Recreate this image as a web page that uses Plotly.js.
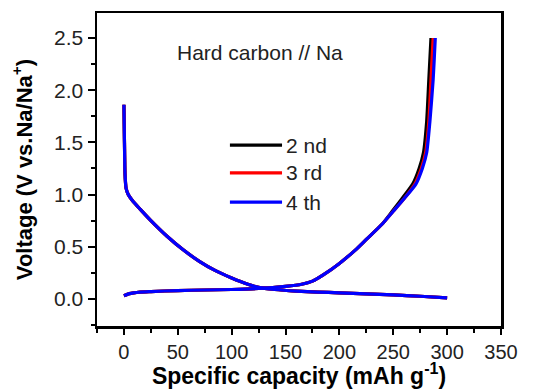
<!DOCTYPE html>
<html>
<head>
<meta charset="utf-8">
<script src="https://cdn.plot.ly/plotly-3.0.1.min.js"></script>
<style>html,body{margin:0;padding:0;background:#fff;}#chart{width:544px;height:389px;}</style>
</head>
<body>
<div id="chart"></div>
<script>
// Discharge (sodiation) branch, cycles 2-4 (nearly identical)
const dischargeX = [0, 0.5, 1, 2, 4, 8, 15, 25, 40, 55, 70, 85, 100, 115, 125, 140, 160, 180, 200, 225, 250, 275, 300];
const dischargeY = [1.86, 1.5, 1.2, 1.06, 1.0, 0.94, 0.86, 0.75, 0.6, 0.47, 0.36, 0.27, 0.2, 0.14, 0.11, 0.09, 0.075, 0.065, 0.058, 0.048, 0.038, 0.025, 0.01];

// Charge (desodiation) branch
const chargeY = [0.03, 0.05, 0.065, 0.07, 0.08, 0.085, 0.09, 0.1, 0.12, 0.14, 0.17, 0.23, 0.34, 0.47, 0.57, 0.72, 0.84, 0.96, 1.1, 1.25, 1.4, 1.7, 2.1, 2.5];
const chargeX2 = [0, 5, 15, 25, 50, 75, 100, 125, 150, 165, 175, 185, 200, 215, 225, 240, 249, 258, 268, 274, 278, 281, 283, 285];
const chargeX3 = [0, 5, 15, 25, 50, 75, 100, 125, 150, 165, 175, 185, 200, 215, 225, 240, 250, 260, 270, 276, 280, 283, 285, 287];
const chargeX4 = [0, 5, 15, 25, 50, 75, 100, 125, 150, 165, 175, 185, 200, 215, 225, 240, 250, 260, 271, 277, 281, 284, 287, 289];

const seriesNames = ["2 nd", "3 rd", "4 th"];
const seriesColors = ["#000000", "#ff0000", "#0000ff"];
const chargeXs = [chargeX2, chargeX3, chargeX4];

const xTicks = [0, 50, 100, 150, 200, 250, 300, 350];
const yTicks = [0.0, 0.5, 1.0, 1.5, 2.0, 2.5];

const traces = [];
seriesNames.forEach((n, i) => {
  traces.push({x: dischargeX, y: dischargeY, mode: 'lines', name: n, showlegend: false,
    line: {color: seriesColors[i], width: 3.2, shape: 'spline', smoothing: 0.6}});
  traces.push({x: chargeXs[i], y: chargeY, mode: 'lines', name: n, showlegend: false,
    line: {color: seriesColors[i], width: 3.2, shape: 'spline', smoothing: 0.6}});
});

const font = "Liberation Sans, Arial, sans-serif";
const shapes = [];
const annotations = [
  {xref: 'paper', yref: 'paper', x: 0.403, y: 0.875, text: 'Hard carbon // Na', showarrow: false,
   font: {family: font, size: 21, color: '#222'}, xanchor: 'center', yanchor: 'middle'}
];
const legY = [0.578, 0.489, 0.396];
seriesNames.forEach((n, i) => {
  shapes.push({type: 'line', xref: 'paper', yref: 'paper', x0: 0.329, x1: 0.458, y0: legY[i], y1: legY[i],
    line: {color: seriesColors[i], width: 3.2}});
  annotations.push({xref: 'paper', yref: 'paper', x: 0.462, y: legY[i], text: n, showarrow: false,
    font: {family: font, size: 21, color: '#222'}, xanchor: 'left', yanchor: 'middle'});
});

const layout = {
  width: 544, height: 389,
  margin: {l: 97, r: 43, t: 13, b: 63},
  paper_bgcolor: '#fff', plot_bgcolor: '#fff',
  showlegend: false,
  font: {family: font, color: '#222'},
  xaxis: {
    range: [-25, 350], tickvals: xTicks, ticktext: xTicks.map(String),
    showgrid: false, zeroline: false, showline: true, linecolor: '#000', linewidth: 2.5, mirror: true,
    ticks: 'outside', ticklen: 6, tickwidth: 2, tickcolor: '#000',
    minor: {dtick: 25, ticks: 'outside', ticklen: 4, tickwidth: 2, tickcolor: '#000', showgrid: false},
    tickfont: {family: font, size: 20, color: '#222'},
    title: {text: 'Specific capacity (mAh g<sup>-1</sup>)', font: {family: font, size: 23, color: '#000', weight: 'bold'}, standoff: 5}
  },
  yaxis: {
    range: [-0.26, 2.74], tickvals: yTicks, ticktext: yTicks.map(v => v.toFixed(1)),
    showgrid: false, zeroline: false, showline: true, linecolor: '#000', linewidth: 2.5, mirror: true,
    ticks: 'outside', ticklen: 7, tickwidth: 2, tickcolor: '#000',
    minor: {dtick: 0.25, ticks: 'outside', ticklen: 4, tickwidth: 2, tickcolor: '#000', showgrid: false},
    tickfont: {family: font, size: 21, color: '#222'},
    title: {text: 'Voltage (V vs.Na/Na<sup>+</sup>)', font: {family: font, size: 22, color: '#000', weight: 'bold'}, standoff: 16}
  },
  shapes: shapes,
  annotations: annotations
};

Plotly.newPlot('chart', traces, layout, {staticPlot: true, displayModeBar: false});
</script>
</body>
</html>
